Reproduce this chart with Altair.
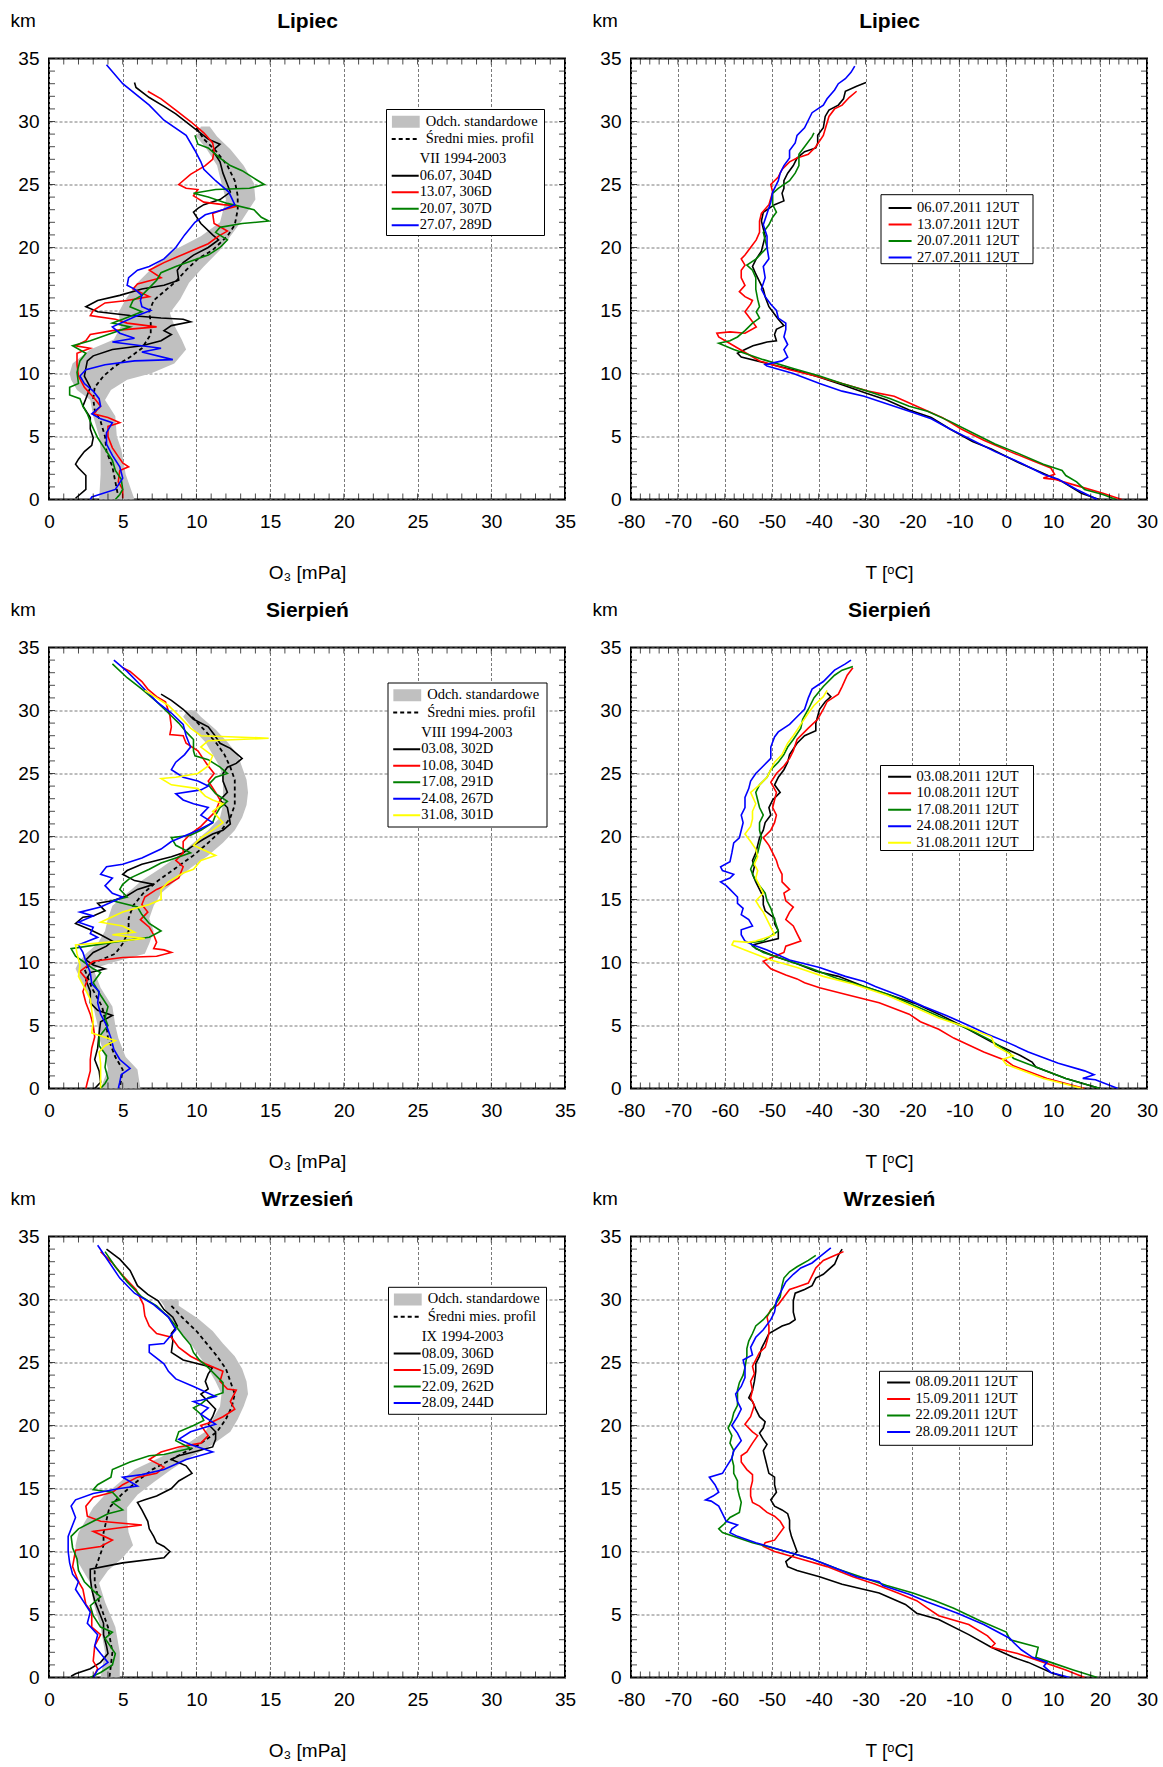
import altair as alt
import pandas as pd

W, H = 516, 441
SANS = "Liberation Sans"
SERIF = "Liberation Serif"

COLORS4 = ["#000000", "#ff0000", "#008000", "#0000ff"]
COLORS5 = COLORS4 + ["#ffff00"]

O3_XTICKS = list(range(0, 36))
T_XTICKS = list(range(-80, 31, 2))
YTICKS = list(range(0, 36))
O3_XLABELS = list(range(0, 36, 5))
T_XLABELS = list(range(-80, 31, 10))
YLABELS = list(range(0, 36, 5))

# ---------------- Lipiec, O3 (alt km, mPa) ----------------
LIP_O3_NAMES = ["06.07, 304D", "13.07, 306D", "20.07, 307D", "27.07, 289D"]
LIP_O3_0607 = [(33.1,5.8),(32.7,5.9),(31.9,6.8),(31.2,7.8),(30.6,8.6),(29.7,9.6),(28.6,10.8),(28.2,11.6),(27.7,11.1),(26.8,11.6),(25.9,11.8),(25.0,12.1),(24.4,12.3),(23.8,11.6),(23.4,10.5),(23.1,10.1),(22.8,9.8),(21.9,10.3),(21.0,11.1),(20.6,11.5),(20.0,10.8),(19.4,9.8),(18.8,9.1),(18.2,8.7),(17.4,8.8),(17.0,7.8),(16.7,6.3),(16.2,4.8),(15.8,3.3),(15.3,2.5),(14.9,3.3),(14.6,5.5),(14.4,7.6),(14.3,9.1),(14.1,9.6),(13.8,8.3),(13.4,7.8),(13.1,8.3),(12.6,7.6),(12.2,6.3),(11.9,4.3),(11.4,3.0),(11.0,2.6),(10.4,2.5),(9.8,2.4),(8.9,2.8),(8.0,2.5),(7.4,2.3),(6.5,2.8),(5.6,2.8),(4.9,3.0),(4.3,2.9),(3.8,2.4),(3.2,2.0),(2.8,1.8),(2.5,2.0),(1.9,2.5),(1.3,2.5),(0.8,2.5),(0.1,1.8)]
LIP_O3_1307 = [(32.4,6.7),(31.8,7.6),(30.9,8.6),(30.0,9.6),(29.1,10.5),(28.3,11.1),(27.7,11.2),(27.0,11.1),(26.5,10.6),(25.8,9.6),(25.0,8.8),(24.7,9.3),(24.6,10.1),(24.1,9.8),(23.6,10.5),(23.4,11.8),(23.3,12.8),(23.0,11.8),(22.7,11.1),(21.9,11.2),(21.3,12.1),(20.9,11.5),(20.3,10.8),(19.8,9.8),(19.2,8.6),(18.8,7.8),(18.2,6.8),(17.6,7.6),(17.1,6.0),(16.7,5.7),(16.1,6.8),(15.8,5.3),(15.6,3.8),(15.0,3.0),(14.6,2.8),(14.3,4.5),(14.0,5.3),(13.7,7.3),(13.4,4.3),(13.1,2.8),(12.6,2.5),(12.2,1.8),(12.0,2.8),(11.6,1.9),(10.7,1.9),(9.8,2.0),(8.9,2.4),(8.0,3.1),(7.4,3.5),(6.8,3.0),(6.5,4.0),(6.1,4.8),(5.8,4.0),(5.0,4.0),(4.1,4.3),(3.4,4.7),(2.9,5.0),(2.6,5.4),(2.3,4.8),(1.4,4.7),(0.8,5.0),(0.1,5.0)]
LIP_O3_2007 = [(28.9,9.9),(28.2,10.1),(27.9,10.8),(27.1,11.6),(26.5,12.3),(26.1,13.1),(25.5,13.9),(25.0,14.6),(24.7,13.6),(24.6,11.3),(24.3,9.8),(24.0,10.8),(23.5,12.1),(23.0,13.9),(22.4,14.4),(22.1,14.9),(21.9,13.1),(21.6,11.6),(21.2,11.3),(20.6,12.1),(20.0,11.6),(19.4,10.8),(18.9,9.6),(18.5,8.6),(18.0,7.6),(17.4,7.3),(16.8,6.8),(16.2,6.3),(15.8,5.7),(15.3,5.5),(14.9,6.3),(14.3,5.0),(14.0,4.3),(13.7,5.5),(13.1,4.0),(12.6,2.8),(12.2,1.6),(11.6,2.5),(11.0,2.1),(10.1,1.9),(9.2,2.0),(8.9,1.4),(8.3,1.4),(8.0,2.1),(7.4,2.3),(6.8,2.6),(5.9,2.9),(4.9,3.3),(4.0,3.8),(3.1,4.3),(2.3,4.5),(1.6,4.9),(0.8,5.0),(0.4,4.8),(0.0,4.5)]
LIP_O3_2707 = [(34.5,3.9),(33.0,5.0),(31.3,6.8),(30.1,7.8),(28.9,9.3),(27.7,9.9),(26.8,10.3),(26.2,10.5),(25.3,11.3),(24.4,12.2),(23.4,12.6),(23.0,11.8),(22.6,10.6),(22.0,9.9),(21.0,9.2),(20.0,8.6),(19.1,7.8),(18.5,6.8),(18.2,6.0),(17.6,5.4),(17.0,5.3),(16.7,5.8),(16.2,6.3),(15.8,6.2),(15.3,6.3),(15.0,6.9),(14.6,6.0),(13.7,4.3),(13.2,4.8),(12.8,5.8),(12.5,4.3),(12.0,7.6),(11.7,6.3),(11.1,8.4),(11.0,5.8),(10.7,3.8),(10.3,2.5),(9.8,2.1),(9.2,2.4),(8.6,3.0),(8.0,3.4),(7.4,3.5),(6.8,2.9),(6.4,3.5),(6.1,4.3),(5.3,3.9),(4.4,3.9),(3.5,4.3),(2.6,4.8),(1.7,5.0),(0.8,4.5),(0.2,2.9),(0.0,2.8)]
LIP_O3_MEAN = [(29.5,10.0),(28.6,10.5),(27.7,11.3),(26.5,12.1),(25.3,12.6),(24.1,12.8),(23.0,12.8),(21.8,12.6),(20.9,12.1),(19.8,11.1),(19.1,10.1),(18.2,9.3),(17.3,8.6),(16.5,7.8),(15.8,7.1),(14.9,6.8),(14.0,6.9),(13.1,6.9),(12.0,6.3),(11.3,5.5),(10.6,4.5),(9.8,3.7),(8.9,3.1),(8.0,3.0),(7.1,3.1),(6.2,3.5),(5.0,3.8),(3.8,3.9),(2.6,4.3),(1.4,4.5),(0.2,4.7)]
LIP_O3_BAND = [(0,3.4,5.8),(2,3.5,5.2),(4,3.5,4.9),(5,3.4,4.6),(6.6,3.0,4.5),(7.9,2.8,3.8),(8.7,1.9,4.2),(9.5,1.5,5.3),(10,1.4,6.9),(10.8,1.6,8.5),(11.9,2.8,9.3),(12.7,4.4,9.0),(13.8,4.9,8.5),(14.8,4.7,8.2),(15.9,5.2,8.9),(17.2,6.0,9.5),(18.5,7.1,10.5),(19.8,8.5,11.6),(20.9,10.3,12.3),(22.0,11.6,13.0),(23.8,12.0,14.0),(25.1,11.7,13.9),(26.5,11.4,13.2),(27.8,10.7,12.3),(28.8,10.0,11.4),(29.6,10.3,10.9)]

# ---------------- Sierpien, O3 ----------------
SIE_O3_NAMES = ["03.08, 302D", "10.08, 304D", "17.08, 291D", "24.08, 267D", "31.08, 301D"]
SIE_O3_0308 = [(31.3,7.6),(30.8,8.3),(30.1,9.1),(29.3,9.8),(28.7,10.8),(28.1,11.2),(27.4,11.6),(27.0,12.3),(26.5,12.8),(26.2,13.1),(25.8,12.7),(25.5,12.1),(25.0,11.8),(24.4,11.8),(23.5,12.1),(22.9,11.6),(22.3,12.1),(21.7,12.2),(21.0,12.3),(20.5,11.8),(20.2,11.1),(19.8,10.5),(19.3,9.8),(18.7,9.1),(18.4,8.3),(18.1,7.3),(17.8,6.3),(17.3,5.3),(17.0,5.0),(16.5,5.8),(16.2,7.1),(15.8,6.0),(15.3,5.3),(14.9,4.3),(14.7,3.3),(14.1,3.8),(13.7,3.0),(13.6,2.3),(13.1,1.8),(12.6,2.8),(12.2,3.5),(11.7,4.3),(11.3,3.9),(10.8,3.0),(10.2,2.5),(9.8,3.0),(9.5,3.8),(9.2,2.8),(8.6,2.5),(7.7,2.8),(6.8,2.8),(6.2,3.3),(5.8,4.3),(5.3,3.5),(4.4,3.4),(3.2,3.3),(2.3,3.1),(1.4,3.4),(0.5,3.5),(0.0,3.1)]
SIE_O3_1008 = [(33.4,5.0),(33.1,5.5),(32.3,6.3),(31.7,6.7),(31.1,7.3),(30.7,7.9),(29.6,8.2),(28.7,8.3),(28.1,8.2),(28.0,9.1),(27.4,9.3),(26.8,10.1),(26.1,10.5),(25.6,10.8),(25.0,11.2),(24.4,10.8),(23.5,11.3),(22.9,11.6),(22.0,11.3),(21.4,10.8),(20.8,10.3),(20.2,9.6),(19.6,9.1),(18.7,9.1),(18.1,8.6),(17.6,9.1),(16.7,8.8),(16.2,8.1),(15.8,7.3),(15.2,6.5),(14.6,6.3),(14.0,6.7),(13.4,6.2),(12.8,6.8),(12.2,7.1),(11.6,7.3),(11.1,7.1),(11.0,7.8),(10.8,8.3),(10.5,7.3),(10.4,5.0),(10.1,3.0),(9.3,2.1),(8.6,2.6),(7.7,2.3),(6.8,2.5),(5.9,2.8),(5.0,3.0),(4.1,3.1),(3.2,2.9),(2.3,2.8),(1.4,2.8),(0.5,2.6),(0.0,2.5)]
SIE_O3_1708 = [(33.7,4.3),(32.6,5.3),(31.7,6.3),(30.7,7.3),(29.8,8.1),(29.0,8.8),(28.3,9.3),(27.7,9.8),(26.8,9.8),(26.4,9.9),(26.1,10.8),(25.5,11.6),(25.0,12.1),(24.7,11.3),(24.1,10.8),(23.4,11.3),(22.8,12.1),(22.3,11.6),(21.7,11.3),(21.1,11.1),(20.5,10.3),(20.1,9.6),(19.9,8.3),(19.3,8.6),(18.7,9.6),(18.3,8.6),(17.9,7.6),(17.4,6.8),(16.7,5.5),(16.2,5.0),(15.8,4.8),(15.2,5.3),(14.9,4.3),(14.4,6.0),(13.8,6.3),(13.1,6.8),(12.5,7.6),(12.0,6.8),(11.6,4.3),(11.1,1.5),(10.5,1.8),(10.1,2.3),(9.5,3.0),(9.2,3.5),(8.4,3.0),(7.4,3.5),(6.5,4.0),(5.6,3.8),(5.0,4.0),(4.1,3.4),(3.4,3.4),(2.6,3.9),(1.7,3.8),(0.8,4.0),(0.4,3.8),(0.0,3.5)]
SIE_O3_2408 = [(34.0,4.4),(33.1,5.3),(31.9,6.3),(30.7,7.3),(29.8,8.3),(28.9,9.1),(28.0,9.3),(27.1,9.6),(26.5,9.2),(25.9,8.6),(25.3,8.3),(24.7,9.1),(24.4,10.1),(24.0,10.8),(23.7,10.3),(23.4,8.6),(22.9,9.1),(22.6,9.8),(22.3,10.8),(21.7,10.3),(21.1,11.1),(20.5,10.1),(20.1,9.3),(19.6,8.3),(19.0,7.6),(18.3,6.3),(17.8,5.0),(17.6,3.9),(17.0,3.5),(16.7,4.3),(16.1,3.8),(15.5,4.3),(15.2,5.0),(14.4,3.5),(14.0,2.1),(13.7,3.0),(13.2,2.0),(12.8,3.0),(12.3,2.8),(12.0,3.3),(11.4,2.0),(10.8,2.3),(10.1,2.5),(9.2,2.8),(8.3,2.9),(7.7,3.4),(6.8,3.3),(5.9,3.5),(5.0,3.9),(4.0,4.2),(3.1,4.4),(2.3,4.8),(1.6,5.5),(1.1,4.9),(0.5,4.8),(0.0,4.7)]
SIE_O3_3108 = [(31.6,6.5),(31.0,7.3),(30.4,8.1),(29.6,8.8),(28.6,9.6),(28.0,10.3),(27.8,14.9),(27.6,10.8),(27.1,10.3),(26.4,11.1),(25.6,10.8),(25.0,10.1),(24.7,8.6),(24.6,7.6),(24.1,8.3),(23.8,10.1),(23.2,10.6),(22.9,11.1),(22.6,11.8),(22.0,11.1),(21.1,11.8),(20.5,11.1),(19.9,10.3),(19.3,9.8),(18.5,11.3),(18.1,10.3),(17.4,9.8),(17.1,9.1),(16.4,8.1),(15.8,7.6),(15.0,7.6),(14.6,6.8),(14.0,5.0),(13.2,3.5),(12.9,5.0),(12.4,5.8),(12.2,4.3),(11.9,6.5),(11.6,3.9),(11.4,1.8),(10.7,1.9),(9.8,2.1),(8.9,2.0),(8.0,2.4),(7.1,2.8),(6.2,2.9),(5.3,3.0),(4.4,2.9),(3.8,4.5),(3.4,3.8),(2.9,3.4),(2.0,3.5),(1.1,3.5),(0.0,3.5)]
SIE_O3_MEAN = [(29.5,9.7),(28.5,10.5),(27.5,11.3),(26.5,11.9),(25.5,12.3),(24.5,12.6),(23.5,12.6),(22.5,12.6),(21.5,12.3),(20.5,11.7),(19.5,10.8),(18.5,9.8),(17.5,8.6),(16.5,7.4),(15.5,6.4),(14.5,5.7),(13.5,5.4),(12.5,5.4),(11.5,5.0),(10.7,4.5),(10.0,3.1),(9.5,2.4),(8.0,2.9),(6.5,3.6),(5.0,3.9),(4.0,4.0),(2.5,4.5),(1.5,5.0),(0.0,4.8)]
SIE_O3_BAND = [(0,3.5,6.2),(1.5,4.0,6.0),(2.5,3.8,5.2),(4,3.4,4.7),(5,3.3,4.5),(6.5,3.0,4.3),(8,2.4,3.5),(9.5,1.8,3.0),(10,2.0,4.3),(10.7,2.5,6.5),(11.5,3.3,6.8),(12.5,3.8,7.1),(13.5,4.0,6.8),(14.5,4.3,7.1),(15.5,5.3,7.6),(16.5,6.3,8.6),(17.5,7.6,9.6),(18.5,8.8,10.8),(19.5,9.8,11.8),(20.5,10.8,12.6),(21.5,11.6,13.1),(22.5,11.8,13.4),(23.5,11.8,13.5),(24.5,11.8,13.4),(25.5,11.6,13.1),(26.5,11.1,12.8),(27.5,10.6,12.1),(28.5,9.8,11.3),(29.5,9.1,10.3),(30,9.4,9.9)]

# ---------------- Wrzesien, O3 ----------------
WRZ_O3_NAMES = ["08.09, 306D", "15.09, 269D", "22.09, 262D", "28.09, 244D"]
WRZ_O3_0809 = [(34.0,3.9),(33.2,4.8),(32.3,5.5),(31.1,6.0),(30.4,6.7),(29.9,7.4),(29.2,7.8),(28.6,8.4),(27.9,8.7),(27.3,8.3),(26.7,8.4),(25.8,8.3),(25.2,9.1),(24.9,10.1),(24.6,11.1),(24.1,10.8),(23.5,10.6),(22.9,10.8),(22.5,10.3),(21.9,10.8),(21.3,11.3),(20.7,11.1),(20.1,10.8),(19.5,11.3),(18.9,11.3),(18.3,11.1),(17.9,9.8),(17.6,8.8),(17.3,8.3),(16.8,9.3),(16.2,9.7),(15.6,8.8),(15.0,8.3),(14.4,7.3),(14.1,6.5),(13.9,6.0),(13.3,6.3),(12.4,6.7),(11.8,6.8),(11.2,7.1),(10.7,7.3),(10.4,7.8),(10.0,8.2),(9.5,7.8),(9.1,5.0),(8.6,2.8),(7.9,2.8),(7.0,2.9),(6.1,3.1),(5.2,3.4),(4.3,3.7),(3.4,3.7),(2.5,3.9),(1.9,4.0),(1.2,3.5),(0.7,2.8),(0.3,1.8),(0.1,1.5)]
WRZ_O3_1509 = [(33.8,3.5),(32.9,4.3),(31.9,5.0),(30.8,5.9),(29.6,6.4),(28.7,6.5),(27.9,6.8),(27.3,7.3),(27.0,8.3),(26.2,8.8),(25.5,9.6),(24.9,10.6),(24.3,11.8),(23.5,11.6),(22.9,12.1),(22.8,12.7),(21.9,12.3),(21.3,12.6),(20.7,11.8),(20.3,11.1),(20.0,10.3),(19.2,10.8),(18.6,10.3),(18.3,8.8),(17.9,7.6),(17.3,6.8),(16.7,7.8),(16.2,7.3),(15.9,6.0),(15.3,5.0),(14.7,4.3),(14.3,3.0),(13.6,2.5),(12.8,2.6),(12.4,3.5),(12.1,6.3),(11.8,4.3),(11.6,3.0),(10.9,4.3),(10.4,3.5),(10.1,1.8),(8.8,1.6),(7.6,2.0),(7.0,2.3),(5.8,2.5),(5.2,2.9),(4.0,2.9),(3.4,3.5),(2.5,3.1),(1.3,3.0),(0.7,3.3),(0.0,3.0)]
WRZ_O3_2209 = [(33.8,3.8),(32.6,4.5),(31.4,5.3),(30.2,6.3),(29.5,7.3),(28.6,8.1),(27.9,8.6),(27.1,9.1),(26.4,9.6),(25.8,9.8),(25.2,10.2),(24.6,10.8),(24.0,11.3),(23.4,11.8),(22.6,11.8),(22.2,10.8),(21.7,10.3),(21.4,9.8),(20.9,10.3),(20.4,10.5),(20.0,9.8),(19.5,8.8),(18.8,8.6),(18.2,9.6),(17.7,7.8),(17.6,6.8),(17.1,5.5),(16.5,4.3),(15.9,4.2),(15.3,3.3),(14.9,3.0),(14.7,4.3),(14.1,4.8),(13.9,4.3),(13.3,5.0),(13.0,4.0),(12.4,3.0),(11.8,2.0),(11.2,1.5),(10.3,1.6),(9.4,1.9),(8.5,2.0),(7.6,2.4),(6.9,3.0),(6.4,3.5),(5.7,2.8),(4.9,3.0),(4.0,3.5),(3.6,4.3),(3.1,3.8),(1.9,4.5),(1.0,4.3),(0.4,3.5),(0.0,2.8)]
WRZ_O3_2809 = [(34.3,3.3),(33.1,4.0),(31.7,4.8),(30.5,5.8),(29.6,7.1),(28.6,8.1),(27.6,8.6),(26.5,7.8),(26.4,6.8),(25.8,6.8),(24.9,7.8),(24.3,8.1),(23.7,8.6),(23.1,9.8),(22.3,11.3),(22.0,10.3),(21.9,9.8),(21.4,10.8),(20.9,10.3),(20.1,11.3),(19.5,9.6),(18.9,8.8),(18.5,9.6),(17.9,11.1),(17.3,9.3),(16.5,7.8),(16.1,6.3),(15.9,5.0),(15.2,6.0),(15.0,4.8),(14.6,3.0),(14.1,1.8),(13.6,1.5),(12.7,1.8),(12.1,1.6),(11.2,1.3),(10.0,1.3),(9.1,1.4),(8.2,1.6),(7.6,2.0),(7.0,1.8),(6.1,2.3),(5.2,2.8),(4.3,2.6),(3.4,3.3),(2.5,3.1),(1.9,3.5),(1.2,4.0),(0.6,3.3),(0.0,3.0)]
WRZ_O3_MEAN = [(29.5,8.3),(28.5,9.1),(27.5,10.0),(26.5,10.7),(25.5,11.4),(24.5,12.0),(23.5,12.3),(22.5,12.6),(21.5,12.4),(20.5,12.0),(19.5,11.4),(18.5,10.2),(17.5,8.6),(16.5,7.0),(15.5,5.9),(14.5,4.9),(13.5,4.1),(12.5,3.9),(11.5,3.7),(10.5,3.7),(9.5,3.4),(8.5,3.1),(7.5,3.1),(6.0,3.4),(4.0,4.0),(2.0,4.3),(0.0,4.1)]
WRZ_O3_BAND = [(0,3.5,4.8),(2,3.8,4.8),(4,3.5,4.5),(6,3.0,3.8),(7.5,2.8,3.4),(8.5,2.3,4.0),(9.5,1.8,5.0),(10.5,1.8,5.7),(11.5,2.0,5.4),(12.5,2.5,5.3),(13.5,3.0,5.3),(14.5,3.8,6.0),(15.5,4.8,7.1),(16.5,5.8,8.3),(17.5,7.6,9.6),(18.5,9.3,11.1),(19.5,10.6,12.3),(20.5,11.1,12.8),(21.5,11.6,13.2),(22.5,11.7,13.5),(23.5,11.3,13.4),(24.5,10.8,13.1),(25.5,10.2,12.6),(26.5,9.6,11.8),(27.5,8.8,11.1),(28.5,8.1,10.1),(29.5,7.8,8.8),(30,7.5,8.8)]

# ---------------- Lipiec, T (alt km, deg C) ----------------
LIP_T_NAMES = ["06.07.2011 12UT", "13.07.2011 12UT", "20.07.2011 12UT", "27.07.2011 12UT"]
LIP_T_0607 = [(0,19.8),(0.5,16.0),(1.4,12.0),(2.2,7.1),(2.9,2.8),(4.0,-3.2),(4.6,-7.2),(5.6,-12.0),(6.5,-16.0),(7.1,-20.7),(7.9,-25.5),(8.5,-30.3),(9.1,-35.0),(9.7,-39.8),(10.3,-45.4),(10.8,-51.0),(11.3,-56.5),(11.6,-57.3),(11.9,-55.7),(12.2,-54.0),(12.5,-51.0),(12.6,-49.0),(13.1,-49.4),(13.5,-49.0),(13.8,-47.4),(14.3,-48.6),(14.9,-49.8),(15.3,-50.6),(16.1,-51.4),(16.7,-51.8),(17.3,-52.6),(17.9,-53.4),(18.5,-54.1),(19.1,-53.3),(19.7,-52.2),(20.3,-51.8),(20.9,-51.4),(21.5,-51.8),(22.1,-52.2),(22.8,-51.8),(23.4,-49.4),(23.7,-47.4),(24.3,-47.8),(24.7,-47.4),(25.3,-47.4),(25.9,-46.6),(26.5,-45.4),(27.1,-44.6),(27.6,-43.0),(27.9,-40.6),(28.3,-40.2),(28.9,-40.2),(29.5,-39.0),(30.4,-38.6),(30.9,-37.8),(31.3,-35.8),(31.8,-34.7),(32.4,-34.3),(32.8,-31.9),(33.1,-29.9)]
LIP_T_1307 = [(0,24.6),(0.5,20.6),(1.1,15.0),(1.6,10.3),(1.7,7.9),(2.0,10.3),(2.5,9.5),(3.1,5.5),(3.8,0.8),(4.7,-4.8),(5.6,-9.6),(6.5,-13.6),(7.4,-19.1),(8.2,-23.9),(8.6,-29.5),(9.2,-35.0),(9.8,-40.6),(10.3,-46.2),(11.0,-52.6),(12.2,-58.1),(12.9,-61.3),(13.2,-61.7),(13.3,-58.9),(13.2,-55.7),(13.7,-53.3),(14.1,-54.1),(14.9,-55.7),(15.5,-54.5),(15.8,-54.1),(16.1,-55.7),(16.5,-56.9),(17.0,-55.7),(17.6,-56.5),(18.2,-56.5),(18.6,-55.7),(19.1,-56.5),(19.4,-55.7),(20.0,-54.5),(20.6,-53.3),(21.2,-52.6),(22.1,-52.6),(22.7,-52.2),(23.4,-50.6),(24.4,-49.8),(25.0,-50.2),(25.6,-48.6),(26.2,-47.8),(26.8,-46.2),(27.1,-44.6),(27.4,-42.2),(28.0,-40.6),(28.9,-39.0),(30.4,-37.8),(31.0,-36.6),(31.3,-35.0),(31.9,-33.5),(32.4,-31.9)]
LIP_T_2007 = [(0,23.4),(0.4,20.6),(0.8,16.7),(1.4,15.0),(1.9,12.7),(2.3,11.9),(2.8,7.9),(3.7,2.3),(4.4,-2.4),(5.3,-7.2),(6.2,-12.0),(7.0,-16.8),(7.4,-20.7),(8.0,-24.7),(8.6,-29.5),(9.2,-35.0),(9.8,-39.8),(10.4,-45.4),(11.1,-51.8),(11.9,-58.1),(12.4,-61.3),(12.6,-58.9),(12.9,-57.3),(13.4,-55.7),(14.0,-54.1),(14.4,-52.6),(14.9,-53.3),(15.3,-52.6),(15.9,-53.0),(16.7,-53.4),(17.6,-53.4),(18.2,-54.1),(18.6,-55.3),(19.1,-53.3),(20.0,-51.0),(20.6,-51.4),(21.2,-51.8),(21.8,-50.6),(22.4,-49.8),(22.8,-49.0),(23.4,-49.8),(24.3,-49.8),(24.7,-48.6),(25.3,-46.2),(25.9,-45.0),(26.5,-44.2),(27.4,-44.2),(28.0,-43.0),(28.8,-41.4),(29.1,-41.0)]
LIP_T_2707 = [(0,19.4),(0.8,15.0),(1.6,11.1),(2.0,7.9),(2.9,3.1),(3.8,-2.4),(4.7,-7.2),(5.6,-12.0),(6.4,-16.0),(7.0,-20.7),(7.7,-26.3),(8.2,-30.3),(8.6,-35.0),(9.2,-39.8),(10.0,-45.4),(10.6,-51.0),(10.7,-51.4),(11.0,-47.8),(11.3,-46.6),(11.9,-47.4),(12.3,-46.6),(12.9,-47.4),(13.5,-47.0),(14.0,-47.0),(14.4,-48.6),(15.0,-49.0),(15.5,-50.2),(16.1,-51.4),(16.7,-52.2),(17.6,-51.4),(18.5,-51.8),(19.1,-50.6),(20.0,-51.0),(20.9,-51.0),(21.8,-51.8),(22.7,-51.0),(23.6,-50.2),(24.4,-49.8),(25.3,-48.6),(25.9,-48.2),(26.5,-47.4),(27.1,-46.2),(27.7,-46.2),(28.3,-45.0),(28.9,-44.6),(29.5,-43.0),(30.1,-42.2),(30.7,-41.4),(31.3,-39.0),(31.8,-38.2),(32.5,-36.6),(33.0,-35.8),(33.4,-34.3),(33.9,-33.1),(34.4,-32.3)]

# ---------------- Sierpien, T ----------------
SIE_T_NAMES = ["03.08.2011 12UT", "10.08.2011 12UT", "17.08.2011 12UT", "24.08.2011 12UT", "31.08.2011 12UT"]
SIE_T_0308 = [(0,20.0),(0.8,12.7),(1.7,6.3),(2.1,5.5),(2.6,3.1),(3.0,0.8),(3.7,-3.2),(5.0,-9.6),(5.9,-14.4),(6.7,-19.1),(7.4,-24.7),(8.1,-30.3),(8.9,-35.8),(9.3,-40.6),(9.9,-44.6),(10.5,-49.4),(11.1,-53.4),(11.4,-54.1),(11.6,-51.8),(11.9,-48.6),(12.5,-48.6),(13.1,-49.4),(13.5,-49.4),(14.1,-51.4),(14.6,-51.8),(15.2,-51.8),(15.8,-52.6),(16.4,-53.4),(17.0,-54.1),(17.6,-53.7),(18.1,-54.1),(18.7,-53.4),(19.3,-53.0),(19.9,-52.6),(20.5,-51.8),(21.1,-51.4),(21.7,-50.2),(22.3,-50.6),(22.9,-49.8),(23.5,-48.2),(24.1,-49.4),(24.7,-48.6),(25.3,-47.4),(25.9,-46.6),(26.5,-46.2),(27.4,-44.6),(28.0,-43.0),(28.4,-40.6),(29.0,-40.6),(30.1,-39.8),(30.7,-38.6),(31.1,-37.4),(31.4,-38.2)]
SIE_T_1008 = [(0,16.7),(0.8,8.7),(1.8,1.5),(2.2,0.0),(2.9,-4.8),(4.0,-11.2),(4.7,-14.4),(5.3,-18.3),(5.9,-20.7),(6.8,-27.1),(7.4,-33.5),(8.0,-39.8),(8.4,-43.0),(8.7,-44.6),(9.0,-47.0),(9.5,-50.2),(10.1,-51.8),(10.5,-49.4),(10.8,-47.4),(11.3,-47.0),(11.7,-43.8),(12.3,-44.6),(12.9,-45.4),(13.4,-47.0),(14.0,-46.2),(14.4,-45.4),(14.9,-47.0),(15.5,-47.4),(15.8,-46.2),(16.4,-47.8),(17.0,-47.8),(17.6,-48.6),(18.1,-49.0),(18.7,-49.8),(19.3,-50.6),(19.9,-51.8),(20.5,-50.2),(21.1,-49.4),(21.7,-49.0),(22.3,-49.8),(22.9,-49.4),(23.5,-49.0),(24.3,-50.2),(25.0,-49.0),(25.6,-47.4),(26.2,-46.2),(26.8,-45.4),(27.7,-44.6),(28.6,-42.2),(29.3,-40.2),(30.1,-39.0),(30.7,-38.2),(31.3,-35.8),(31.9,-35.0),(32.8,-33.9),(33.4,-32.7)]
SIE_T_1708 = [(0,20.0),(0.8,12.7),(1.7,6.3),(2.4,1.5),(2.8,0.8),(3.8,-3.2),(4.7,-8.0),(5.6,-13.6),(6.5,-19.1),(7.4,-24.7),(8.1,-30.3),(8.7,-35.8),(9.5,-41.4),(10.2,-47.0),(10.8,-51.8),(11.3,-54.1),(11.6,-54.5),(11.7,-51.8),(12.5,-48.6),(13.4,-49.4),(14.3,-50.2),(14.9,-51.0),(15.5,-51.4),(16.1,-52.6),(16.7,-53.7),(17.4,-54.5),(18.1,-53.7),(18.7,-53.0),(19.3,-52.6),(19.9,-52.2),(20.5,-52.6),(21.1,-52.6),(21.7,-51.8),(22.3,-52.6),(22.9,-53.0),(23.5,-53.4),(24.1,-52.6),(24.7,-51.0),(25.3,-50.2),(25.9,-48.6),(26.5,-47.4),(27.1,-46.6),(27.7,-45.4),(28.6,-43.8),(29.3,-43.4),(30.1,-42.2),(31.0,-41.0),(31.9,-39.0),(32.8,-36.6),(33.2,-35.0),(33.5,-32.7)]
SIE_T_2408 = [(0,23.8),(0.7,19.0),(0.8,16.3),(1.1,18.7),(1.4,16.7),(2.0,11.1),(2.9,4.7),(3.7,0.0),(4.3,-4.0),(5.0,-8.0),(5.8,-12.8),(6.5,-17.6),(7.3,-22.3),(8.1,-27.9),(8.5,-30.3),(8.9,-34.3),(9.6,-39.8),(10.2,-46.2),(11.0,-51.0),(11.4,-54.1),(11.7,-55.7),(12.2,-56.5),(12.6,-56.5),(12.9,-54.1),(13.4,-54.9),(13.8,-56.5),(14.3,-56.1),(14.7,-57.3),(15.2,-57.3),(15.8,-58.9),(16.1,-59.7),(16.4,-60.9),(16.7,-58.9),(17.0,-58.1),(17.3,-60.5),(17.6,-60.9),(18.0,-58.9),(18.7,-58.5),(19.5,-58.1),(19.9,-56.9),(20.5,-56.5),(21.1,-56.1),(21.7,-56.5),(22.3,-55.7),(23.1,-55.7),(23.8,-54.9),(24.4,-54.5),(25.0,-53.4),(25.6,-51.8),(26.2,-50.2),(27.1,-50.2),(27.9,-49.4),(28.3,-48.6),(28.9,-46.2),(29.5,-44.6),(30.1,-43.0),(31.0,-42.2),(31.7,-41.4),(32.3,-39.0),(33.2,-36.6),(33.7,-34.3),(34.0,-33.1)]
SIE_T_3108 = [(0,16.3),(0.8,7.9),(1.9,0.0),(2.3,-0.8),(2.6,1.5),(3.4,-2.4),(4.1,-3.2),(4.9,-8.8),(5.6,-14.4),(6.5,-19.9),(7.4,-25.5),(8.3,-32.7),(8.9,-39.0),(9.6,-44.6),(10.2,-50.2),(11.0,-55.7),(11.4,-58.5),(11.7,-58.1),(11.6,-54.9),(11.7,-53.4),(12.2,-49.4),(12.8,-50.2),(13.4,-51.0),(14.0,-51.8),(14.4,-52.6),(14.9,-53.4),(15.5,-51.8),(16.1,-52.6),(16.7,-53.4),(17.3,-53.0),(17.8,-53.7),(18.4,-53.0),(19.0,-53.4),(19.6,-54.5),(20.2,-55.7),(20.8,-54.5),(21.4,-54.1),(22.0,-54.1),(22.6,-53.4),(23.5,-54.5),(24.1,-52.6),(24.7,-51.0),(25.3,-50.2),(25.9,-49.4),(26.5,-47.8),(27.4,-46.6),(28.0,-45.4),(28.9,-43.8),(29.8,-42.2),(30.4,-41.0),(31.1,-39.0),(31.6,-38.2)]

# ---------------- Wrzesien, T ----------------
WRZ_T_NAMES = ["08.09.2011 12UT", "15.09.2011 12UT", "22.09.2011 12UT", "28.09.2011 12UT"]
WRZ_T_0809 = [(0,12.7),(0.4,9.5),(1.2,4.7),(1.6,1.5),(2.4,-3.2),(3.4,-8.0),(4.6,-14.4),(5.1,-19.1),(5.8,-21.5),(6.7,-27.1),(7.4,-35.0),(8.0,-39.8),(8.5,-44.6),(8.8,-46.6),(9.2,-47.0),(9.7,-45.4),(10.0,-44.6),(10.4,-45.0),(11.2,-45.8),(11.8,-46.2),(12.5,-46.2),(13.0,-46.6),(13.3,-47.8),(13.6,-49.4),(14.1,-50.2),(14.7,-49.0),(15.3,-49.4),(15.9,-49.4),(16.2,-50.6),(16.8,-51.0),(17.4,-51.4),(18.0,-51.8),(18.5,-51.0),(18.9,-51.8),(19.4,-52.6),(19.8,-51.8),(20.3,-51.4),(20.7,-52.6),(21.3,-53.4),(21.9,-54.1),(22.2,-54.9),(22.8,-54.1),(23.5,-53.7),(24.3,-53.4),(24.9,-53.4),(25.5,-52.6),(26.1,-52.2),(26.7,-51.4),(27.3,-50.6),(27.9,-47.8),(28.1,-46.2),(28.4,-45.0),(29.0,-45.4),(29.9,-45.4),(30.5,-45.0),(30.8,-43.0),(31.1,-41.4),(31.7,-40.6),(32.0,-39.0),(32.8,-36.6),(33.5,-35.8),(34.0,-35.0)]
WRZ_T_1509 = [(0,16.7),(0.6,12.7),(1.2,8.0),(1.9,2.4),(2.4,-3.2),(2.7,-2.4),(3.3,-4.0),(4.2,-8.0),(4.9,-14.4),(5.5,-16.8),(6.1,-19.1),(6.7,-23.1),(7.4,-27.9),(8.0,-32.7),(8.8,-38.2),(9.4,-43.8),(10.0,-49.4),(10.4,-51.8),(10.7,-51.4),(10.9,-49.4),(11.3,-48.6),(11.9,-47.4),(12.4,-48.2),(12.8,-49.4),(13.1,-51.0),(13.6,-52.6),(13.9,-54.1),(14.4,-54.5),(15.0,-54.5),(15.6,-54.1),(16.1,-54.1),(16.5,-55.3),(17.1,-56.5),(17.6,-56.5),(17.9,-55.3),(18.6,-54.1),(19.2,-53.0),(19.5,-54.1),(20.1,-55.7),(20.7,-54.5),(21.6,-53.7),(22.2,-54.5),(22.8,-54.1),(23.5,-54.5),(24.1,-53.7),(24.7,-54.1),(25.2,-53.4),(25.8,-52.6),(26.2,-51.4),(26.7,-51.0),(27.3,-50.6),(27.9,-50.6),(28.6,-51.0),(29.2,-50.2),(29.6,-48.6),(30.2,-47.4),(30.8,-46.2),(31.0,-44.6),(31.3,-42.2),(31.9,-41.4),(32.5,-40.6),(33.1,-39.0),(33.5,-36.6),(33.8,-34.7)]
WRZ_T_2209 = [(0,19.4),(0.6,14.3),(1.2,9.5),(1.6,6.3),(2.4,6.8),(3.0,0.8),(3.6,0.0),(4.5,-5.6),(5.5,-11.2),(6.1,-15.2),(6.7,-19.9),(7.3,-25.5),(7.9,-30.3),(8.6,-35.8),(9.4,-41.4),(10.0,-47.0),(10.7,-54.1),(11.5,-60.5),(11.8,-61.3),(12.2,-60.1),(12.7,-58.9),(13.1,-56.9),(13.9,-56.5),(14.4,-56.9),(15.0,-57.3),(15.6,-57.3),(16.2,-58.1),(16.8,-58.1),(17.4,-58.5),(18.0,-58.1),(18.6,-58.9),(19.2,-58.5),(19.8,-59.3),(20.4,-58.5),(21.0,-58.1),(21.6,-57.3),(22.2,-57.3),(22.8,-57.3),(23.4,-56.9),(24.0,-56.1),(24.6,-55.7),(25.5,-55.3),(26.1,-55.3),(26.7,-54.9),(27.3,-54.1),(27.9,-53.4),(28.4,-51.8),(28.9,-50.6),(29.5,-49.4),(30.2,-48.2),(31.1,-47.8),(31.7,-47.4),(32.2,-46.2),(32.6,-44.6),(33.1,-42.2),(33.5,-40.6)]
WRZ_T_2809 = [(0,13.5),(0.4,9.5),(0.9,8.0),(1.2,8.7),(1.6,5.6),(2.2,3.2),(2.8,1.5),(3.1,0.8),(4.2,-4.8),(5.1,-10.4),(6.0,-16.8),(6.6,-20.7),(7.3,-26.3),(7.6,-27.1),(8.0,-31.9),(8.6,-35.8),(9.4,-41.4),(10.0,-47.0),(10.7,-53.4),(11.2,-57.3),(11.5,-58.9),(11.8,-58.5),(12.1,-57.3),(12.4,-59.7),(13.0,-60.5),(13.6,-61.3),(14.0,-62.9),(14.1,-64.1),(14.4,-62.5),(14.7,-61.3),(15.3,-62.1),(15.9,-63.3),(16.2,-60.5),(16.7,-59.7),(17.4,-58.5),(18.0,-58.1),(18.8,-56.5),(19.4,-57.3),(20.0,-58.5),(20.7,-57.3),(21.3,-56.5),(21.9,-57.3),(22.5,-57.7),(23.1,-56.5),(23.8,-55.7),(24.6,-55.7),(25.2,-56.1),(25.6,-54.1),(26.2,-54.5),(27.0,-53.4),(27.6,-51.8),(28.4,-50.2),(29.0,-49.4),(29.9,-49.0),(30.8,-47.8),(31.4,-47.0),(32.0,-45.4),(32.5,-43.8),(32.9,-41.4),(33.5,-39.4),(34.1,-37.4)]


def series_df(names, series):
    rows = []
    for name, pts in zip(names, series):
        for i, (a, v) in enumerate(pts):
            rows.append({"s": name, "alt": a, "v": v, "i": i, "b1": "b1", "b2": "b2"})
    return pd.DataFrame(rows)


def axis_common():
    return dict(labelFont=SANS, labelFontSize=19, labelColor="black", labelFlush=False,
                labelOverlap=False, ticks=False, domain=False, grid=True,
                gridDash=[3, 2], gridColor="#7a7a7a", gridWidth=1,
                titleFont=SANS, titleFontSize=19, titleFontWeight="normal",
                titleColor="black", labelExpr="'' + datum.value")


def x_axis(values, title):
    return alt.Axis(orient="bottom", values=values, title=title, labelPadding=12.5,
                    titleX=W / 2, titleY=73, titleAlign="center", titleBaseline="middle",
                    **axis_common())


def y_axis():
    return alt.Axis(orient="left", values=YLABELS, title="km", labelPadding=10,
                    titleAngle=0, titleX=-39, titleY=-32, titleAlign="left",
                    titleBaseline="alphabetic", **axis_common())


def box_legend(x, y, w, h, z, filled):
    """Legend with an invisible, text-free entry whose border draws the legend frame.
    Its width comes from an invisible stroke symbol of length w, its height from clipHeight."""
    kw = dict(orient="none", legendX=x, legendY=y, title=None, padding=0,
              strokeColor="black", symbolType="stroke", symbolSize=w * w,
              symbolStrokeWidth=0, symbolStrokeColor="white", symbolFillColor="white",
              symbolOpacity=0, labelFontSize=1, labelColor="white", labelOffset=0,
              labelExpr="''", clipHeight=h, zindex=z)
    if filled:
        kw["fillColor"] = "white"
    return alt.Legend(**kw)


def frame_layers(xs, ys, xticks, month):
    tx = pd.DataFrame({"v": xticks})
    ty = pd.DataFrame({"alt": YTICKS})
    top_axis = alt.Axis(orient="top", title=month, labels=False, ticks=False, domain=False,
                        grid=False, titleFont=SANS, titleFontSize=21, titleFontWeight="bold",
                        titleColor="black", titleX=W / 2, titleY=-31, titleAlign="center",
                        titleBaseline="alphabetic")
    top = alt.Chart(tx).mark_tick(orient="vertical", size=6, thickness=1, color="black").encode(
        x=alt.X("v:Q", scale=xs, axis=top_axis), y=alt.value(3))
    bottom = alt.Chart(tx).mark_tick(orient="vertical", size=6, thickness=1, color="black").encode(
        x=alt.X("v:Q", scale=xs, axis=None), y=alt.value(H - 3))
    left = alt.Chart(ty).mark_tick(orient="horizontal", size=6, thickness=1, color="black").encode(
        y=alt.Y("alt:Q", scale=ys, axis=None), x=alt.value(3))
    right = alt.Chart(ty).mark_tick(orient="horizontal", size=6, thickness=1, color="black").encode(
        y=alt.Y("alt:Q", scale=ys, axis=None), x=alt.value(W - 3))
    return [top, bottom, left, right]


def o3_panel(month, names, series, colors, band, mean, period, box):
    bx, by, bw, bh = box
    xs = alt.Scale(domain=[0, 35], nice=False, zero=False)
    ys = alt.Scale(domain=[0, 35], nice=False, zero=False)
    band_df = pd.DataFrame(band, columns=["alt", "lo", "hi"])
    band_df["lab"] = "Odch. standardowe"
    mean_df = pd.DataFrame(mean, columns=["alt", "v"])
    mean_df["i"] = range(len(mean_df))
    mean_df["lab"] = "Średni mies. profil"
    mean_df["b1"] = "b1"
    df = series_df(names, series)

    fill_leg = alt.Legend(orient="none", legendX=bx + 5.7, legendY=by + 5.4, title=None,
                          symbolType="M-1,-0.43L1,-0.43L1,0.43L-1,0.43Z", symbolSize=784,
                          symbolStrokeWidth=0, symbolOpacity=1, labelFont=SERIF,
                          labelFontSize=14.5, labelColor="black", labelOffset=6, padding=0,
                          clipHeight=14.5, zindex=3)
    dash_leg = alt.Legend(orient="none", legendX=bx + 4.7, legendY=by + 22.8, title=None,
                          symbolType="stroke", symbolSize=729, symbolStrokeWidth=2,
                          symbolStrokeColor="black", labelFont=SERIF, labelFontSize=14.5,
                          labelColor="black", labelOffset=6, padding=0, clipHeight=14.5,
                          zindex=3)
    col_leg = alt.Legend(orient="none", legendX=bx + 4.7, legendY=by + 43, title=None,
                         padding=0, symbolType="stroke", symbolSize=729, symbolStrokeWidth=2,
                         symbolOffset=0, labelOffset=0, labelFont=SERIF, labelFontSize=14.5,
                         labelColor="black", clipHeight=14.5, rowPadding=0.5, zindex=3)

    band_layer = alt.Chart(band_df).mark_area(orient="horizontal", color="#c0c0c0",
                                              opacity=1, interpolate="linear").encode(
        y=alt.Y("alt:Q", scale=ys, axis=y_axis()),
        x=alt.X("lo:Q", scale=xs, axis=x_axis(O3_XLABELS, "O₃ [mPa]")),
        x2=alt.X2("hi:Q"),
        fill=alt.Fill("lab:N", scale=alt.Scale(domain=["Odch. standardowe"], range=["#c0c0c0"]),
                      legend=fill_leg))
    mean_layer = alt.Chart(mean_df).mark_line(color="black", strokeWidth=1.8, clip=True).encode(
        y=alt.Y("alt:Q", scale=ys, axis=None),
        x=alt.X("v:Q", scale=xs, axis=None),
        strokeDash=alt.StrokeDash("lab:N", scale=alt.Scale(domain=["Średni mies. profil"],
                                                           range=[[4, 3]]), legend=dash_leg),
        opacity=alt.Opacity("b1:N", scale=alt.Scale(type="ordinal", domain=["b1"], range=[1]),
                            legend=box_legend(bx, by, bw, bh, 0, True)),
        order=alt.Order("i:Q"))
    lines = alt.Chart(df).mark_line(strokeWidth=1.6, clip=True).encode(
        y=alt.Y("alt:Q", scale=ys, axis=None),
        x=alt.X("v:Q", scale=xs, axis=None),
        color=alt.Color("s:N", scale=alt.Scale(domain=[period] + names,
                                               range=["transparent"] + colors),
                        legend=col_leg),
        strokeOpacity=alt.StrokeOpacity("b2:N", scale=alt.Scale(type="ordinal", domain=["b2"],
                                                                range=[1]),
                                        legend=box_legend(bx + 1, by + 1, bw - 2, bh - 2, 1, False)),
        order=alt.Order("i:Q"))
    layers = [band_layer, mean_layer, lines] + frame_layers(xs, ys, O3_XTICKS, month)
    return alt.layer(*layers).resolve_axis(x="independent", y="independent").properties(
        width=W, height=H)


def t_panel(month, names, series, colors, box, row_off):
    bx, by, bw, bh = box
    xs = alt.Scale(domain=[-80, 30], nice=False, zero=False)
    ys = alt.Scale(domain=[0, 35], nice=False, zero=False)
    df = series_df(names, series)
    leg = alt.Legend(orient="none", legendX=bx + 7.1, legendY=by + row_off, title=None,
                     padding=0, symbolType="stroke", symbolSize=529, symbolStrokeWidth=2,
                     symbolOffset=0, labelOffset=4.4, labelFont=SERIF, labelFontSize=14.5,
                     labelColor="black", clipHeight=14.5, rowPadding=0.5, zindex=3)
    lines = alt.Chart(df).mark_line(strokeWidth=1.6, clip=True).encode(
        y=alt.Y("alt:Q", scale=ys, axis=y_axis()),
        x=alt.X("v:Q", scale=xs, axis=x_axis(T_XLABELS, "T [ᵒC]")),
        color=alt.Color("s:N", scale=alt.Scale(domain=names, range=colors), legend=leg),
        opacity=alt.Opacity("b1:N", scale=alt.Scale(type="ordinal", domain=["b1"], range=[1]),
                            legend=box_legend(bx, by, bw, bh, 0, True)),
        strokeOpacity=alt.StrokeOpacity("b2:N", scale=alt.Scale(type="ordinal", domain=["b2"],
                                                                range=[1]),
                                        legend=box_legend(bx + 1, by + 1, bw - 2, bh - 2, 1, False)),
        order=alt.Order("i:Q"))
    layers = [lines] + frame_layers(xs, ys, T_XTICKS, month)
    return alt.layer(*layers).resolve_axis(x="independent", y="independent").properties(
        width=W, height=H)


p1 = o3_panel("Lipiec", LIP_O3_NAMES, [LIP_O3_0607, LIP_O3_1307, LIP_O3_2007, LIP_O3_2707],
              COLORS4, LIP_O3_BAND, LIP_O3_MEAN, "VII 1994-2003", (337, 50.5, 157.5, 126))
p2 = t_panel("Lipiec", LIP_T_NAMES, [LIP_T_0607, LIP_T_1307, LIP_T_2007, LIP_T_2707],
             COLORS4, (249.5, 135.7, 152, 69), 6.6)
p3 = o3_panel("Sierpień", SIE_O3_NAMES,
              [SIE_O3_0308, SIE_O3_1008, SIE_O3_1708, SIE_O3_2408, SIE_O3_3108],
              COLORS5, SIE_O3_BAND, SIE_O3_MEAN, "VIII 1994-2003", (338.5, 35, 158.5, 143.5))
p4 = t_panel("Sierpień", SIE_T_NAMES,
             [SIE_T_0308, SIE_T_1008, SIE_T_1708, SIE_T_2408, SIE_T_3108],
             COLORS5, (249, 117.5, 152.5, 84.5), 4.4)
p5 = o3_panel("Wrzesień", WRZ_O3_NAMES, [WRZ_O3_0809, WRZ_O3_1509, WRZ_O3_2209, WRZ_O3_2809],
              COLORS4, WRZ_O3_BAND, WRZ_O3_MEAN, "IX 1994-2003", (339, 50.3, 158, 127))
p6 = t_panel("Wrzesień", WRZ_T_NAMES, [WRZ_T_0809, WRZ_T_1509, WRZ_T_2209, WRZ_T_2809],
             COLORS4, (248, 134.3, 153, 74), 4.4)

RES = dict(color="independent", fill="independent", strokeDash="independent",
           opacity="independent", strokeOpacity="independent")

chart = alt.concat(p1, p2, p3, p4, p5, p6, columns=2, bounds="flush",
                   spacing={"row": 148, "column": 66}).resolve_scale(**RES).properties(
    padding={"left": 9, "top": 9.5, "right": 2, "bottom": 2},
    background="white",
).configure_view(stroke="black", strokeWidth=2)

chart.save("out.html", embed_options={"renderer": "svg", "actions": False})
